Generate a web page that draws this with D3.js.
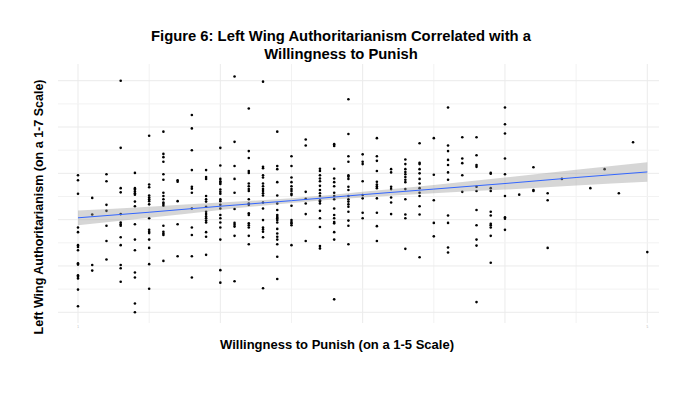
<!DOCTYPE html>
<html>
<head>
<meta charset="utf-8">
<script src="https://cdn.jsdelivr.net/npm/d3@7"></script>
<style>
  body { margin: 0; background: #fff; }
  text { font-family: "Liberation Sans", Arial, sans-serif; }
</style>
</head>
<body>
<div id="chart"></div>
<script>
// willingness to punish (x) and the LWA scores seen at each of those x values
const punishScores = [1.0, 1.1, 1.2, 1.3, 1.4, 1.5, 1.6, 1.7, 1.8, 1.9,
    2.0, 2.1, 2.2, 2.3, 2.4, 2.5, 2.6, 2.7, 2.8, 2.9,
    3.0, 3.1, 3.2, 3.3, 3.4, 3.5, 3.6, 3.7, 3.8, 3.9,
    4.0, 4.1, 4.2, 4.3, 4.4, 4.6, 4.7, 4.8, 4.9, 5.0];
const lwaScores = [
    [4.96, 4.85, 4.56, 3.83, 3.73, 3.45, 3.41, 3.34, 3.06, 3.03, 2.80, 2.77, 2.73, 2.49, 2.13],
    [4.47, 4.11, 3.02, 2.90],
    [4.98, 4.83, 4.32, 4.19, 3.87, 3.54, 3.14],
    [7.00, 5.55, 4.68, 4.59, 4.12, 3.94, 3.90, 3.87, 3.62, 3.45, 3.02, 2.95, 2.66],
    [5.01, 4.68, 4.65, 4.61, 4.57, 4.54, 4.39, 4.29, 3.90, 3.57, 3.34, 2.86, 2.75, 2.19, 2.00],
    [5.81, 4.76, 4.70, 4.52, 4.48, 4.44, 4.40, 4.33, 4.03, 3.78, 3.74, 3.71, 3.57, 3.39, 3.04, 2.51],
    [5.90, 5.42, 5.35, 5.25, 4.98, 4.86, 4.58, 4.51, 4.44, 4.37, 4.34, 4.30, 3.87, 3.74, 3.70, 3.67, 3.11],
    [4.85, 4.82, 4.40, 3.90, 3.21],
    [6.26, 5.97, 5.50, 5.07, 4.71, 4.67, 4.58, 4.24, 3.83, 3.67, 3.21, 2.75],
    [5.07, 4.92, 4.88, 4.51, 4.44, 4.39, 4.28, 4.17, 4.12, 4.07, 4.03, 3.98, 3.94, 3.73, 3.63, 3.24],
    [5.55, 5.17, 4.88, 4.83, 4.80, 4.77, 4.65, 4.60, 4.56, 4.44, 4.40, 4.32, 4.24, 4.10, 4.03, 3.94, 3.83, 3.57, 2.91, 2.64],
    [7.09, 5.68, 5.16, 4.88, 4.58, 4.23, 3.93, 3.89, 3.85, 3.65, 2.67],
    [6.40, 5.48, 5.33, 5.05, 5.01, 4.78, 4.72, 4.66, 4.62, 4.44, 4.35, 4.32, 4.14, 4.10, 3.92, 3.88, 3.83, 3.65, 3.47],
    [6.98, 5.14, 5.11, 4.96, 4.91, 4.78, 4.72, 4.66, 4.62, 4.57, 4.52, 4.37, 4.24, 3.99, 3.83, 3.79, 3.74, 3.62, 2.52],
    [5.90, 5.16, 5.09, 4.81, 4.52, 4.35, 4.21, 4.10, 4.06, 4.03, 3.99, 3.94, 3.80, 3.70, 3.63, 3.57, 3.47, 3.20, 2.72],
    [5.37, 5.16, 4.91, 4.81, 4.72, 4.66, 4.62, 4.56, 4.53, 4.30, 3.99, 3.95, 3.92, 3.88, 3.45],
    [5.73, 5.60, 4.60, 4.45, 4.35, 4.12, 3.54],
    [5.10, 5.05, 4.96, 4.89, 4.83, 4.73, 4.64, 4.57, 4.51, 4.42, 4.39, 4.35, 4.19, 4.03, 3.84, 3.43, 3.38],
    [5.63, 5.59, 5.10, 4.89, 4.81, 4.72, 4.58, 4.51, 4.44, 4.24, 4.10, 4.03, 3.95, 3.92, 3.73, 3.57, 2.28],
    [6.60, 5.85, 5.37, 5.25, 4.96, 4.93, 4.88, 4.71, 4.64, 4.51, 4.44, 4.39, 4.33, 4.28, 4.17, 3.98, 3.87, 3.47],
    [5.41, 5.25, 5.20, 4.83, 4.53, 4.46, 4.15, 4.03],
    [5.76, 5.37, 5.27, 5.05, 4.82, 4.76, 4.72, 4.68, 4.46, 4.15, 3.86, 3.54],
    [5.09, 5.02, 4.71, 4.66, 4.48, 4.37, 4.12],
    [5.30, 5.20, 5.09, 5.03, 4.98, 4.92, 4.86, 4.81, 4.66, 4.44, 4.11, 4.03, 3.37],
    [5.65, 5.23, 5.20, 5.09, 5.00, 4.88, 4.78, 4.68, 4.58, 4.51, 4.29, 4.11, 3.19],
    [5.76, 4.97, 4.42, 3.93, 3.64],
    [6.42, 5.60, 5.48, 5.29, 5.18, 5.02, 4.86, 4.09, 3.93, 3.40, 3.29],
    [5.78, 5.32, 5.22, 4.96, 4.60],
    [5.78, 5.39, 5.18, 5.14, 4.71, 4.62, 4.21, 3.88, 3.57, 3.44, 2.22],
    [5.01, 4.99, 4.68, 4.62, 4.17, 4.09, 3.91, 3.88, 3.83, 3.65, 3.07],
    [6.42, 6.06, 5.86, 5.32, 4.98, 4.51, 4.05, 4.02, 3.78],
    [4.54],
    [5.13, 4.64, 4.62],
    [4.57, 4.42, 3.39],
    [4.88],
    [4.68],
    [5.09],
    [4.57],
    [5.67],
    [3.30]
];

// linear fit and its 95% band
const fitX = [1, 1.5, 2, 2.5, 3, 3.5, 4, 4.5, 5];
const fitY = [4.04, 4.16, 4.29, 4.41, 4.54, 4.66, 4.78, 4.91, 5.03];
const fitLow = [3.88, 4.04, 4.21, 4.36, 4.48, 4.57, 4.65, 4.74, 4.82];
const fitHigh = [4.20, 4.28, 4.37, 4.46, 4.60, 4.75, 4.91, 5.08, 5.24];

const xBreaks = [1, 1.5, 2, 2.5, 3, 3.5, 4, 4.5, 5];
const yBreaks = [2, 2.5, 3, 3.5, 4, 4.5, 5, 5.5, 6, 6.5, 7];
const xTickLabels = ['1', '5'];

const titleLines = ['Figure 6: Left Wing Authoritarianism Correlated with a', 'Willingness to Punish'];
const xTitle = 'Willingness to Punish (on a 1-5 Scale)';
const yTitle = 'Left Wing Authoritarianism (on a 1-7 Scale)';

const width = 676, height = 410;
const panel = { left: 58, right: 659, top: 64, bottom: 323 };

const svg = d3.select('#chart').append('svg')
    .attr('width', width)
    .attr('height', height);

svg.append('rect').attr('width', width).attr('height', height).attr('fill', '#fff');

const x = d3.scaleLinear().domain([1, 5]).range([78, 647.3]);
const y = d3.scaleLinear().domain([2, 7]).range([312.3, 80.7]);

// grid
const grid = svg.append('g');
grid.selectAll('line.v')
    .data(xBreaks)
    .join('line')
    .attr('class', 'v')
    .attr('x1', d => x(d)).attr('x2', d => x(d))
    .attr('y1', panel.top).attr('y2', panel.bottom)
    .attr('stroke', d => Number.isInteger(d) ? '#ebebeb' : '#f2f2f2')
    .attr('stroke-width', 1);
grid.selectAll('line.h')
    .data(yBreaks)
    .join('line')
    .attr('class', 'h')
    .attr('x1', panel.left).attr('x2', panel.right)
    .attr('y1', d => y(d)).attr('y2', d => y(d))
    .attr('stroke', d => Number.isInteger(d) ? '#ebebeb' : '#f2f2f2')
    .attr('stroke-width', 1);

// points
const points = [];
punishScores.forEach((p, i) => {
    lwaScores[i].forEach(v => points.push({ p, v }));
});

svg.append('g').selectAll('circle')
    .data(points)
    .join('circle')
    .attr('cx', d => x(d.p))
    .attr('cy', d => y(d.v))
    .attr('r', 1.3)
    .attr('fill', '#000');

// smooth band + line
const fit = fitX.map((d, i) => ({ x: d, y: fitY[i], lo: fitLow[i], hi: fitHigh[i] }));

svg.append('path')
    .datum(fit)
    .attr('fill', '#999999')
    .attr('fill-opacity', 0.4)
    .attr('d', d3.area()
        .curve(d3.curveMonotoneX)
        .x(d => x(d.x))
        .y0(d => y(d.lo))
        .y1(d => y(d.hi)));

svg.append('path')
    .datum(fit)
    .attr('fill', 'none')
    .attr('stroke', '#3366FF')
    .attr('stroke-width', 1)
    .attr('d', d3.line().x(d => x(d.x)).y(d => y(d.y)));

// the faint tick labels at the axis ends
svg.append('g').selectAll('text')
    .data(xTickLabels)
    .join('text')
    .attr('x', d => x(+d))
    .attr('y', 328)
    .attr('text-anchor', 'middle')
    .attr('font-size', 3)
    .attr('fill', '#b0b0b0')
    .text(d => d);

// titles
svg.append('g').selectAll('text')
    .data(titleLines)
    .join('text')
    .attr('x', 341)
    .attr('y', (d, i) => 41 + i * 18)
    .attr('text-anchor', 'middle')
    .attr('font-size', 14.8)
    .attr('font-weight', 'bold')
    .attr('fill', '#000')
    .text(d => d);

svg.append('text')
    .attr('x', 337)
    .attr('y', 349)
    .attr('text-anchor', 'middle')
    .attr('font-size', 13)
    .attr('font-weight', 'bold')
    .attr('fill', '#000')
    .text(xTitle);

svg.append('text')
    .attr('transform', 'translate(43,207) rotate(-90)')
    .attr('text-anchor', 'middle')
    .attr('font-size', 12.5)
    .attr('font-weight', 'bold')
    .attr('fill', '#000')
    .text(yTitle);
</script>
</body>
</html>
